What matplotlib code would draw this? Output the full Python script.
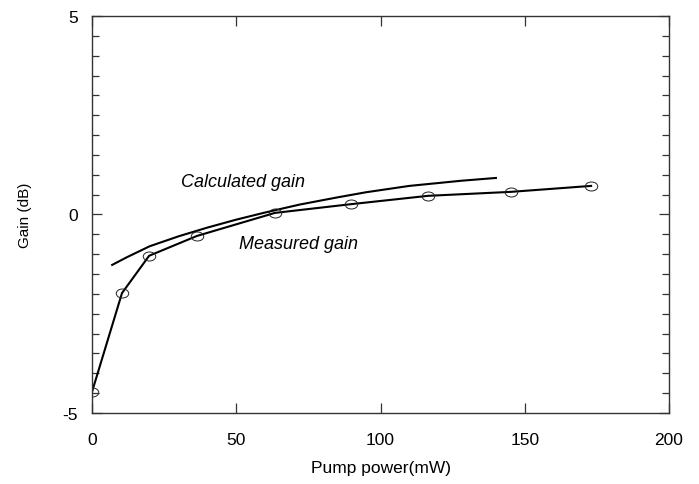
import matplotlib
matplotlib.use("Agg")
import matplotlib.pyplot as plt
from matplotlib.path import Path
from matplotlib.ticker import MultipleLocator

plt.rcParams['font.family'] = ['Liberation Sans', 'DejaVu Sans']
plt.rcParams['axes.unicode_minus'] = False

# measured gain (points with circles)
meas_x = [0, 10.4, 19.8, 36.4, 63.4, 89.8, 116.5, 145.2, 173.0]
meas_y = [-4.47, -1.98, -1.04, -0.54, 0.04, 0.26, 0.47, 0.57, 0.72]

# calculated gain (line)
calc_x = [7, 12, 20, 30, 40, 50, 60, 72, 85, 95, 110, 128, 140]
calc_y = [-1.27, -1.08, -0.80, -0.55, -0.33, -0.13, 0.05, 0.25, 0.43, 0.56, 0.72, 0.85, 0.92]

# slightly flattened circle marker
circ = Path.unit_circle()
oval = Path(circ.vertices * [1.0, 0.72], circ.codes)

fig = plt.figure(figsize=(6.99, 4.85), dpi=100)
ax = fig.add_axes([0.1316, 0.1464, 0.8255, 0.8186])

ax.plot(calc_x, calc_y, color='black', lw=1.5)
ax.plot(meas_x, meas_y, color='black', lw=1.5)
ax.plot(meas_x, meas_y, ls='none', marker=oval, ms=9, mfc='none',
        mec='#222222', mew=0.7)

ax.set_xlim(0, 200)
ax.set_ylim(-5, 5)
ax.xaxis.set_major_locator(MultipleLocator(50))
ax.yaxis.set_major_locator(MultipleLocator(5))
ax.yaxis.set_minor_locator(MultipleLocator(0.5))
ax.tick_params(which='both', direction='in', top=True, right=True,
               labelsize=12.5, colors='#333333', labelcolor='black', width=0.9)
ax.tick_params(which='major', length=7, pad=14)
ax.tick_params(which='minor', length=5)
ax.tick_params(axis='y', which='major', pad=10)
for s in ax.spines.values():
    s.set_color('#333333')
    s.set_linewidth(1.0)

ax.set_xlabel('Pump power(mW)', fontsize=12.5, labelpad=9)
ax.set_ylabel('Gain (dB)', fontsize=11, labelpad=22)

ax.text(30.8, 0.84, 'Calculated gain', fontsize=13, style='italic', va='center')
ax.text(50.8, -0.74, 'Measured gain', fontsize=13, style='italic', va='center')

fig.savefig('out.png', dpi=100)
